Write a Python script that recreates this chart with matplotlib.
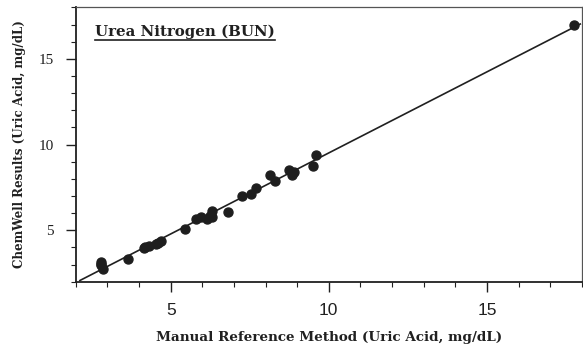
import matplotlib.pyplot as plt
import numpy as np
from matplotlib.ticker import MultipleLocator

# manual reference method vs ChemWell results (mg/dL)
manual = [2.8, 2.8, 2.85, 2.8, 3.65, 4.15, 4.3, 4.2, 4.55, 4.7, 4.6, 5.45,
          5.8, 5.95, 6.15, 6.3, 6.25, 6.3, 6.8, 7.25, 7.55, 7.7, 8.15, 8.3,
          8.75, 8.85, 8.9, 9.5, 9.6, 17.75]
chemwell = [3.15, 2.95, 2.75, 3.05, 3.3, 3.95, 4.1, 4.0, 4.2, 4.4, 4.25, 5.05,
            5.65, 5.75, 5.65, 6.15, 5.85, 5.75, 6.05, 7.0, 7.1, 7.45, 8.2, 7.9,
            8.5, 8.2, 8.4, 8.75, 9.4, 17.0]
fit_x = [2.13, 17.95]

slope, intercept = np.polyfit(manual, chemwell, 1)

fig = plt.figure(figsize=(5.83, 3.53), dpi=100)
ax = fig.add_axes([0.130, 0.202, 0.868, 0.777])

ax.scatter(manual, chemwell, s=42, color='#1e1e1e', zorder=3)
fx = np.array(fit_x)
ax.plot(fx, slope * fx + intercept, color='#202020', lw=1.2)

ax.set_xlim(2, 18)
ax.set_ylim(2, 18)
ax.xaxis.set_major_locator(MultipleLocator(5))
ax.xaxis.set_minor_locator(MultipleLocator(1))
ax.yaxis.set_major_locator(MultipleLocator(5))
ax.yaxis.set_minor_locator(MultipleLocator(1))
ax.tick_params(which='major', direction='out', length=7, width=1, colors='#202020')
ax.tick_params(which='minor', direction='out', length=3.6, width=0.8, colors='#202020')
ax.tick_params(axis='x', labelsize=12.5, pad=8)
ax.tick_params(axis='y', labelsize=11, pad=9)
for lab in ax.get_xticklabels():
    lab.set_family('Liberation Sans')
for lab in ax.get_yticklabels():
    lab.set_family('Liberation Serif')

for side in ['left', 'bottom']:
    ax.spines[side].set_linewidth(1.3)
    ax.spines[side].set_color('#202020')
for side in ['top', 'right']:
    ax.spines[side].set_linewidth(0.9)
    ax.spines[side].set_color('#555555')

ax.set_xlabel('Manual Reference Method (Uric Acid, mg/dL)', family='DejaVu Serif',
              fontweight='bold', fontsize=9.7, labelpad=10, color='#202020')
ax.set_ylabel('ChemWell Results (Uric Acid, mg/dL)', family='DejaVu Serif',
              fontweight='bold', fontsize=8.6, labelpad=9, color='#202020')

title = ax.text(0.0375, 0.91, 'Urea Nitrogen (BUN)', transform=ax.transAxes,
                family='DejaVu Serif', fontweight='bold', fontsize=10.8,
                va='center', ha='left', color='#202020')

# underline the title
fig.canvas.draw()
bb = title.get_window_extent().transformed(ax.transAxes.inverted())
ax.plot([bb.x0, bb.x1], [bb.y0 - 0.004, bb.y0 - 0.004], transform=ax.transAxes,
        color='#202020', lw=1.2)

fig.savefig('out.png', dpi=100)
